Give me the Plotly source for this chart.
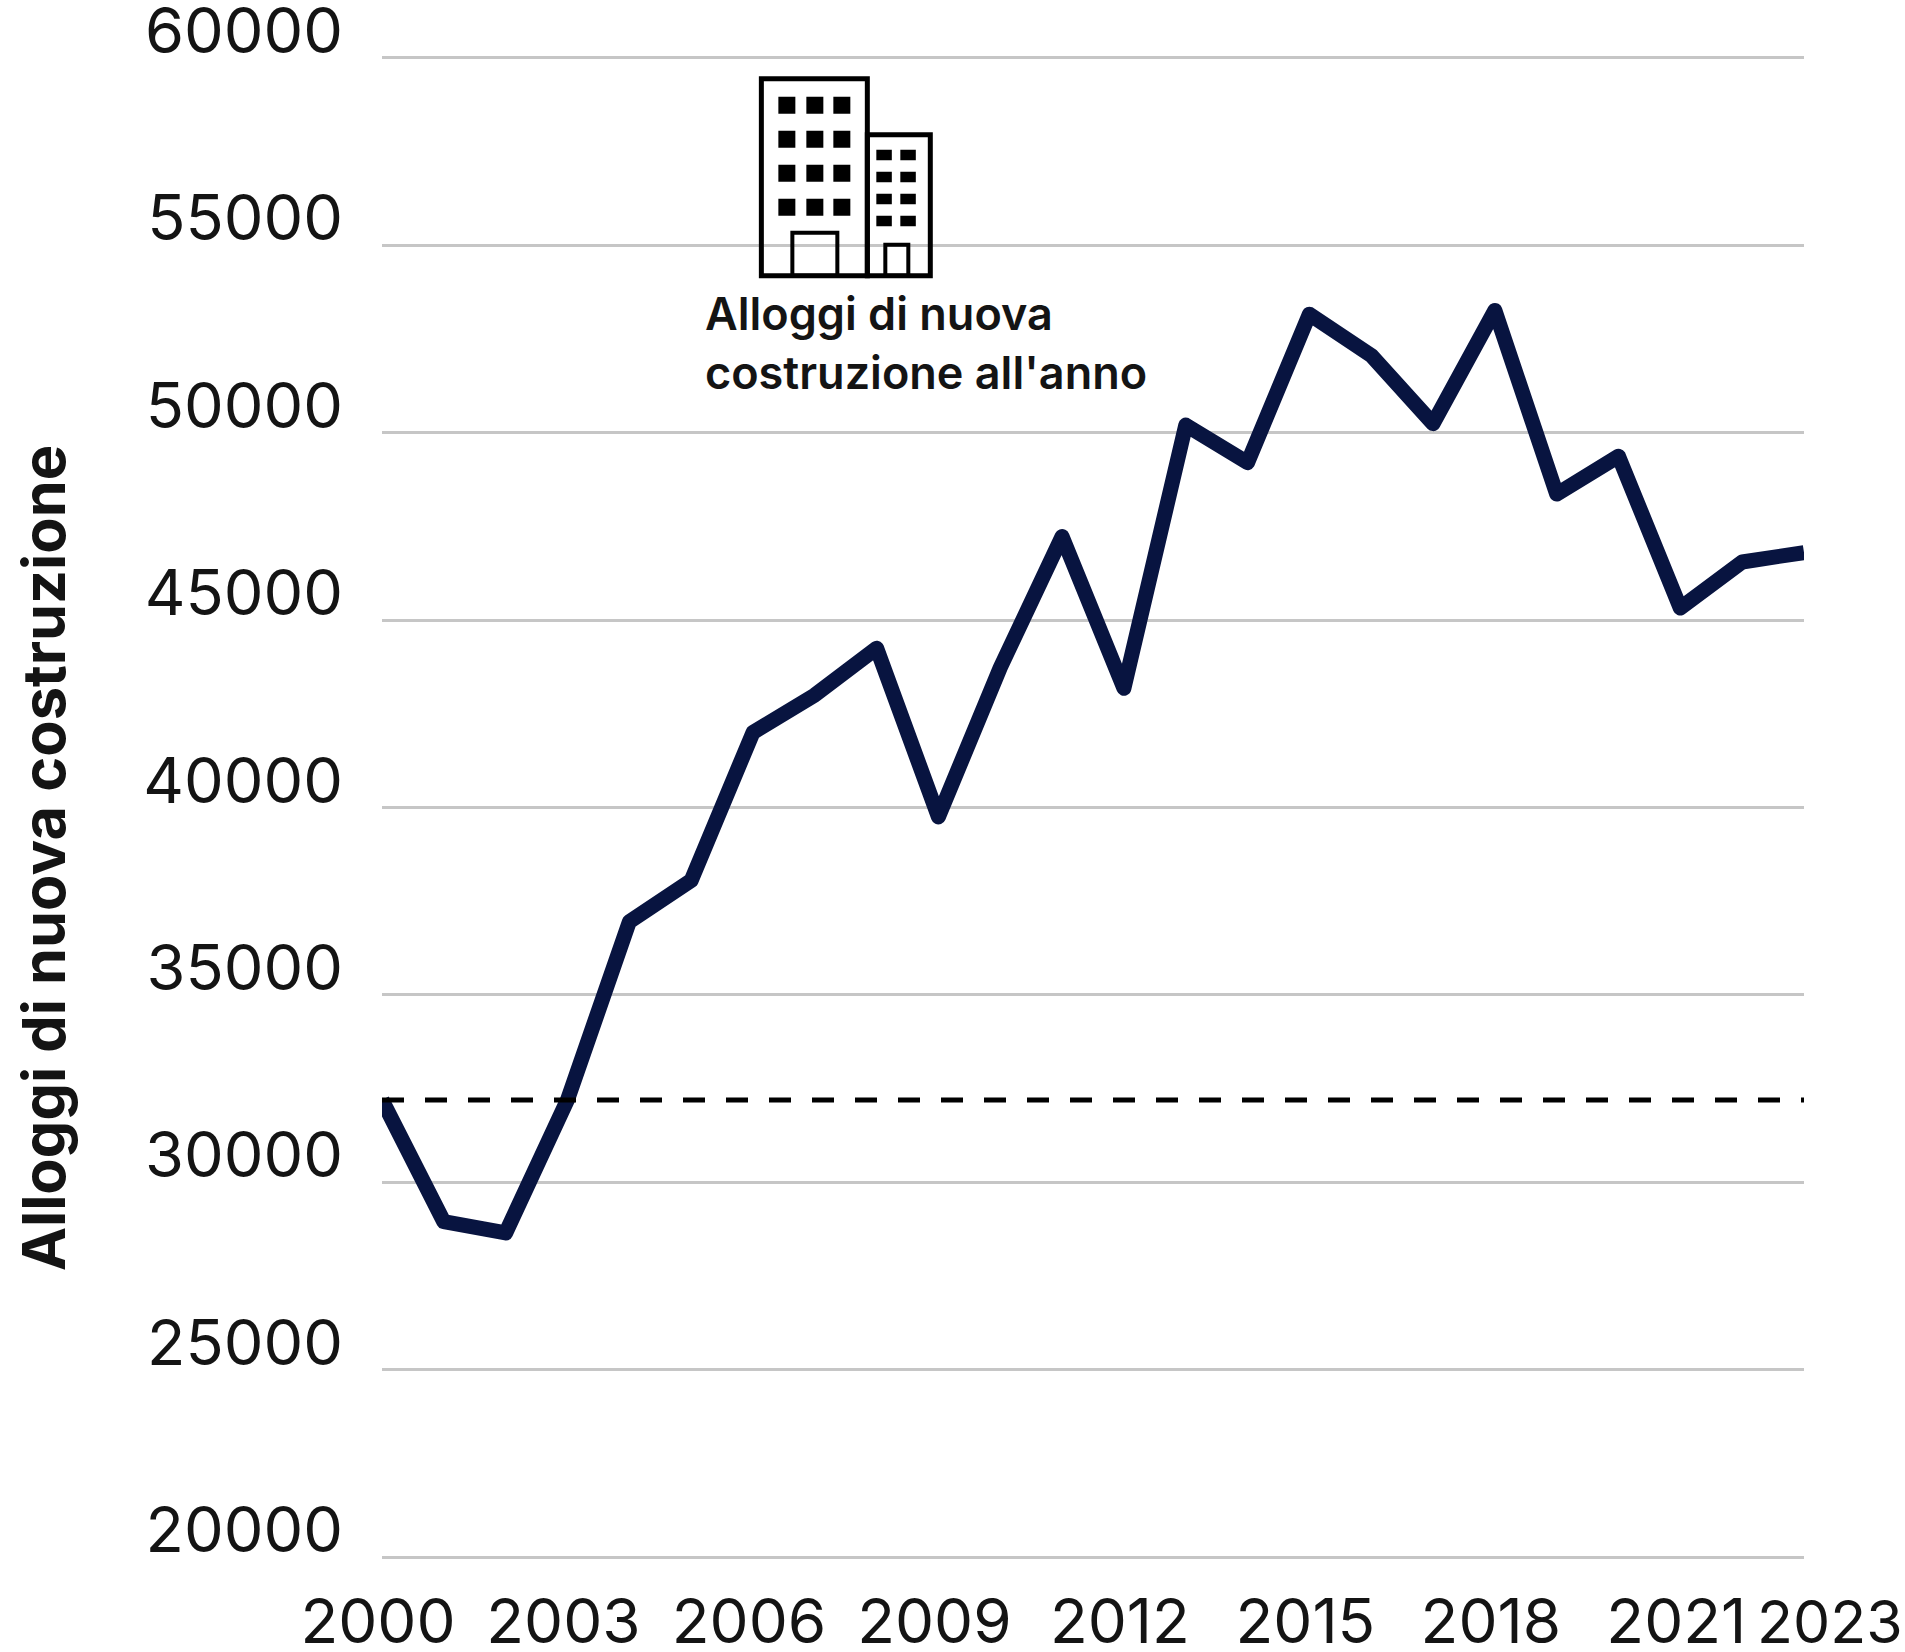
import plotly.graph_objects as go

years = list(range(2000, 2024))
new_homes = [32200, 28950, 28650, 32200, 36950, 38050, 42000, 43000, 44250, 39750, 43730, 47230,
             43180, 50200, 49200, 53160, 52060, 50240, 53260, 48360, 49370, 45320, 46550, 46800]
reference_level = [32200] * len(years)
x_ticks = [2000, 2003, 2006, 2009, 2012, 2015, 2018, 2021]
y_ticks = [20000, 25000, 30000, 35000, 40000, 45000, 50000, 55000, 60000]

W, H = 1905, 1652
L, R = 381.5, 1804
# small padding on the value axis so the gridlines at 20000 and 60000 are drawn
PAD = 100
PX_PER_UNIT = (1557.5 - 58) / 40000
T, B = 58 - PAD * PX_PER_UNIT, 1557.5 + PAD * PX_PER_UNIT
FONT = "Inter"
INK = "#141414"
NAVY = "#081440"


def px(x):
    return (x - L) / (R - L)


def py(y):
    return (B - y) / (B - T)


fig = go.Figure()
fig.add_trace(go.Scatter(x=years, y=new_homes, mode="lines",
                         line=dict(color=NAVY, width=15, shape="linear"), showlegend=False))
fig.add_trace(go.Scatter(x=years, y=reference_level, mode="lines",
                         line=dict(color="#000000", width=5, dash="22px,21px"), showlegend=False))

shapes = []


def rect(x0, y0, x1, y1, fill=None, lw=0):
    shapes.append(dict(type="rect", xref="paper", yref="paper", x0=px(x0), x1=px(x1), y0=py(y0), y1=py(y1),
                       fillcolor=fill if fill else "rgba(0,0,0,0)",
                       line=dict(color="#000000", width=lw), layer="above"))


# building icon
rect(761, 79, 867, 276, lw=5)
rect(867, 135, 930, 276, lw=5)
rect(792, 233, 837, 276, lw=4)
rect(885, 245, 908, 276, lw=4)
for wy in (97, 131, 165, 199):
    for wx in (778, 806, 833):
        rect(wx, wy, wx + 17, wy + 17, fill="#000000")
for wy in (150, 172, 194, 216):
    for wx in (876, 900):
        rect(wx, wy, wx + 15.5, wy + 10.5, fill="#000000")

annotations = [
    dict(text="2023", x=2023, y=0, xref="x", yref="paper", xshift=26, yshift=-60, showarrow=False,
         font=dict(family=FONT, size=59, color=INK), xanchor="center", yanchor="middle"),
    dict(text="Alloggi di nuova costruzione", x=px(42), y=py(858), xref="paper", yref="paper",
         textangle=-90, showarrow=False, font=dict(family=FONT, size=59.5, color=INK, weight=700),
         xanchor="center", yanchor="middle"),
    dict(text="Alloggi di nuova", x=px(703), y=py(314), xref="paper", yref="paper", showarrow=False,
         font=dict(family=FONT, size=45, color=INK, weight=600), xanchor="left", yanchor="middle"),
    dict(text="costruzione all'anno", x=px(703), y=py(373), xref="paper", yref="paper", showarrow=False,
         font=dict(family=FONT, size=45, color=INK, weight=600), xanchor="left", yanchor="middle"),
]

fig.update_layout(
    width=W, height=H, autosize=False, template="none",
    margin=dict(l=L, r=W - R, t=T, b=H - B),
    paper_bgcolor="white", plot_bgcolor="white",
    font=dict(family=FONT, color=INK),
    shapes=shapes, annotations=annotations,
    xaxis=dict(range=[2000, 2023], tickmode="array", tickvals=x_ticks, ticktext=[str(v) for v in x_ticks],
               showgrid=False, zeroline=False, showline=False, ticks="", tickfont=dict(size=62, color=INK),
               ticklabelstandoff=19, ticklabelshift=-4, tickangle=0, automargin=False,
               ticklabeloverflow="allow"),
    yaxis=dict(range=[20000 - PAD, 60000 + PAD], tickmode="array", tickvals=y_ticks,
               ticktext=[str(v) for v in y_ticks],
               showgrid=True, gridcolor="#c6c6c6", gridwidth=2.5, zeroline=False, showline=False, ticks="",
               tickfont=dict(size=63, color=INK), ticklabelstandoff=38, ticklabelshift=-27, automargin=False,
               ticklabeloverflow="allow"),
)

fig.write_html("out.html", config={"displayModeBar": False},
               post_script="document.body.style.margin='0';document.body.style.overflow='hidden';"
                           "document.querySelectorAll('.js-line').forEach(function(p){p.style.strokeLinejoin='round';});")
